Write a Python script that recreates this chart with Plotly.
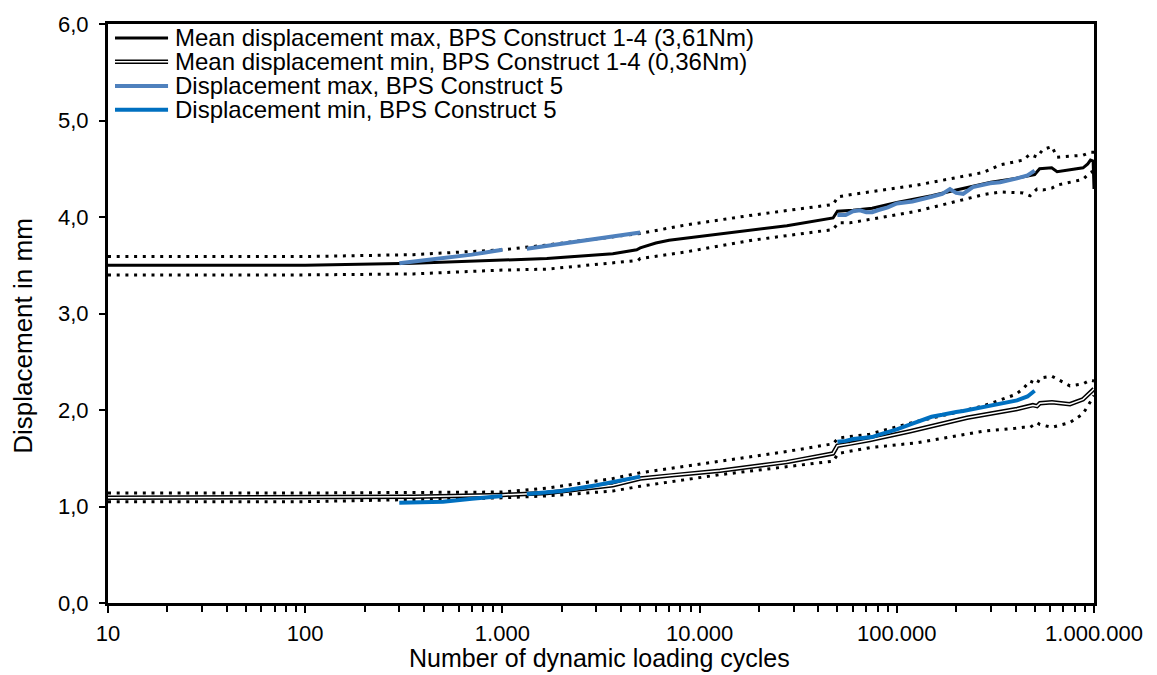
import plotly.graph_objects as go

# ---- data -------------------------------------------------------------
# BPS Construct 1-4, mean of the maximum displacement (3,61 Nm) with +/- SD band
max_cycles = [10, 100, 354, 1000, 1680, 3630, 4800, 5000, 6000, 7000, 10000, 12700,
              27700, 47500, 50000, 60000, 75000, 100000, 150000, 200000, 300000,
              400000, 500000, 530000, 610000, 650000, 750000, 880000, 930000,
              960000, 990000, 1000000]
max_mean = [3.50, 3.50, 3.52, 3.55, 3.57, 3.62, 3.66, 3.68, 3.73, 3.76, 3.80, 3.82,
            3.91, 3.99, 4.06, 4.07, 4.09, 4.15, 4.22, 4.28, 4.36,
            4.40, 4.44, 4.50, 4.51, 4.47, 4.49, 4.51, 4.55,
            4.59, 4.58, 4.29]

max_sd_cycles = [10, 100, 354, 1000, 1680, 3630, 4880, 5000, 8630, 18600, 47500,
                 50500, 57900, 126000, 273000, 334000, 437000, 474000, 514000,
                 551000, 612000, 649000, 879000, 955000, 1000000]
max_upper = [3.59, 3.59, 3.61, 3.66, 3.71, 3.79, 3.82, 3.83, 3.92, 4.02, 4.13,
             4.21, 4.23, 4.33, 4.46, 4.54, 4.59, 4.65, 4.62,
             4.70, 4.73, 4.62, 4.64, 4.67, 4.67]
max_lower = [3.40, 3.40, 3.41, 3.45, 3.46, 3.52, 3.55, 3.57, 3.64, 3.76, 3.87,
             3.94, 3.94, 4.06, 4.23, 4.26, 4.25, 4.22, 4.29,
             4.28, 4.30, 4.33, 4.39, 4.46, 4.48]

# BPS Construct 1-4, mean of the minimum displacement (0,36 Nm) with +/- SD band
min_cycles = [10, 100, 354, 1000, 1680, 3630, 5000, 7000, 12700, 27700, 47500,
              50000, 57900, 73000, 117000, 227000, 407000, 490000, 514000,
              532000, 612000, 755000, 879000, 978000, 1000000]
min_mean = [1.09, 1.10, 1.10, 1.12, 1.14, 1.22, 1.29, 1.32, 1.37, 1.46, 1.55,
            1.63, 1.65, 1.69, 1.78, 1.92, 2.01, 2.05, 2.04,
            2.07, 2.08, 2.06, 2.11, 2.20, 2.22]

min_sd_cycles = [10, 100, 1000, 1680, 3630, 5000, 12700, 27700, 47500, 50500,
                 73000, 126000, 273000, 400000, 437000, 474000, 514000, 532000,
                 612000, 755000, 879000, 955000, 1000000]
min_upper = [1.14, 1.14, 1.15, 1.19, 1.29, 1.35, 1.47, 1.57, 1.65, 1.71,
             1.75, 1.88, 2.04, 2.16, 2.22, 2.30, 2.27, 2.33,
             2.35, 2.25, 2.27, 2.31, 2.30]
min_lower = [1.05, 1.05, 1.09, 1.11, 1.16, 1.21, 1.33, 1.41, 1.47, 1.55,
             1.61, 1.66, 1.78, 1.81, 1.82, 1.82, 1.87, 1.85,
             1.82, 1.87, 1.96, 2.08, 2.15]

# BPS Construct 5, single specimen (None separates the recorded intervals)
c5_cycles = [300, 500, 700, 1000, None, 1330, 2000, 3000, 5000, None,
             50000, 55000, 60000, 65000, 70000, 75000, 80000, 90000, 100000,
             120000, 150000, 170000, 186000, 200000, 217000, 243000, 297000,
             334000, 407000, 460000, 500000]
c5_max = [3.52, 3.57, 3.61, 3.66, None, 3.67, 3.72, 3.77, 3.84, None,
          4.02, 4.02, 4.06, 4.07, 4.05, 4.05, 4.07, 4.10, 4.14,
          4.16, 4.21, 4.24, 4.29, 4.25, 4.24, 4.31, 4.35,
          4.36, 4.40, 4.43, 4.48]
c5_min = [1.04, 1.05, 1.08, 1.11, None, 1.13, 1.16, 1.22, 1.31, None,
          1.67, 1.68, 1.70, 1.71, 1.72, 1.72, 1.74, 1.77, 1.80,
          1.86, 1.93, 1.95, 1.97, 1.98, 1.99, 2.01, 2.04,
          2.06, 2.10, 2.14, 2.20]

x_tick_vals = [10, 100, 1000, 10000, 100000, 1000000]
x_tick_text = ["10", "100", "1.000", "10.000", "100.000", "1.000.000"]
y_tick_vals = [0, 1, 2, 3, 4, 5, 6]
y_tick_text = ["0,0", "1,0", "2,0", "3,0", "4,0", "5,0", "6,0"]

legend_labels = [
    "Mean displacement max, BPS Construct 1-4 (3,61Nm)",
    "Mean displacement min, BPS Construct 1-4 (0,36Nm)",
    "Displacement max, BPS Construct 5",
    "Displacement min, BPS Construct 5",
]

BLACK = "#000000"
BLUE_MAX = "#4F81BD"
BLUE_MIN = "#0070C0"
FONT = "Liberation Sans, Arial, sans-serif"
DOT = "3px,5.7px"

fig = go.Figure()

# standard deviation bands (dotted)
for xs, ys in [(max_sd_cycles, max_upper), (max_sd_cycles, max_lower),
               (min_sd_cycles, min_upper), (min_sd_cycles, min_lower)]:
    fig.add_trace(go.Scatter(x=xs, y=ys, mode="lines", showlegend=False,
                             line=dict(color=BLACK, width=3, dash=DOT)))

# mean max: solid black
fig.add_trace(go.Scatter(x=max_cycles, y=max_mean, mode="lines", showlegend=False,
                         line=dict(color=BLACK, width=3)))
# mean min: double line (black outline, white core)
fig.add_trace(go.Scatter(x=min_cycles, y=min_mean, mode="lines", showlegend=False,
                         line=dict(color=BLACK, width=4.5)))
fig.add_trace(go.Scatter(x=min_cycles, y=min_mean, mode="lines", showlegend=False,
                         line=dict(color="#FFFFFF", width=1.5)))

# Construct 5
fig.add_trace(go.Scatter(x=c5_cycles, y=c5_max, mode="lines", showlegend=False,
                         connectgaps=False, line=dict(color=BLUE_MAX, width=4)))
fig.add_trace(go.Scatter(x=c5_cycles, y=c5_min, mode="lines", showlegend=False,
                         connectgaps=False, line=dict(color=BLUE_MIN, width=4)))

# ---- legend drawn in the upper-left corner ---------------------------
shapes = []
annotations = []
row_y = [0.976, 0.935, 0.893, 0.852]
seg_x0, seg_x1, text_x = 0.0071, 0.0609, 0.0660
legend_styles = [
    [dict(color=BLACK, width=3)],
    [dict(color=BLACK, width=4.5), dict(color="#FFFFFF", width=1.5)],
    [dict(color=BLUE_MAX, width=4)],
    [dict(color=BLUE_MIN, width=4)],
]
for yy, label, styles in zip(row_y, legend_labels, legend_styles):
    for st in styles:
        shapes.append(dict(type="line", xref="paper", yref="paper",
                           x0=seg_x0, x1=seg_x1, y0=yy, y1=yy, line=st))
    annotations.append(dict(xref="paper", yref="paper", x=text_x, y=yy,
                            xanchor="left", yanchor="middle", showarrow=False,
                            text=label, font=dict(size=24, color=BLACK, family=FONT)))

# axis titles
annotations.append(dict(xref="paper", yref="paper", x=0.498, y=-0.0945,
                        xanchor="center", yanchor="middle", showarrow=False,
                        text="Number of dynamic loading cycles",
                        font=dict(size=25, color=BLACK, family=FONT)))
annotations.append(dict(xref="paper", yref="paper", x=-0.087, y=0.462,
                        xanchor="center", yanchor="middle", showarrow=False,
                        textangle=-90, text="Displacement in mm",
                        font=dict(size=26, color=BLACK, family=FONT)))

minor_x = [m * 10 ** e for e in range(1, 6) for m in range(2, 10)]

fig.update_layout(
    width=1157, height=675,
    margin=dict(l=108, r=63, t=21, b=72),
    paper_bgcolor="white", plot_bgcolor="white",
    font=dict(family=FONT, color=BLACK, size=22),
    shapes=shapes, annotations=annotations,
    showlegend=False,
)
fig.update_xaxes(
    type="log", range=[1, 6],
    tickvals=x_tick_vals, ticktext=x_tick_text,
    ticks="outside", ticklen=7, tickwidth=2, tickcolor=BLACK,
    minor=dict(tickvals=minor_x, ticks="outside", ticklen=6, tickwidth=2,
               tickcolor=BLACK, showgrid=False),
    showline=True, linewidth=3, linecolor=BLACK, mirror=True,
    showgrid=False, zeroline=False,
    tickfont=dict(size=22, family=FONT, color=BLACK),
    ticklabelstandoff=2,
)
fig.update_yaxes(
    range=[0, 6],
    tickvals=y_tick_vals, ticktext=y_tick_text,
    ticks="outside", ticklen=6, tickwidth=2, tickcolor=BLACK,
    showline=True, linewidth=3, linecolor=BLACK, mirror=True,
    showgrid=False, zeroline=False,
    tickfont=dict(size=22, family=FONT, color=BLACK),
    ticklabelstandoff=6,
)

fig.write_html("out.html")
